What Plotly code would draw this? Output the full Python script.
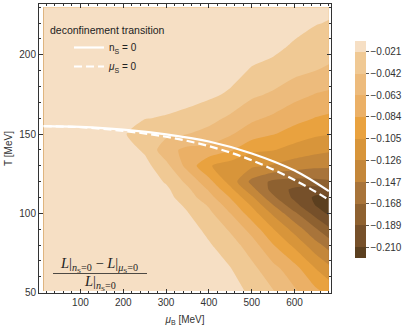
import plotly.graph_objects as go

# ---- data ----
mu_grid = [14, 100, 200, 250, 300, 350, 400, 450, 500, 550, 600, 650, 680]
T_grid = [51, 65, 80, 90, 100, 105, 110, 115, 120, 130, 140, 150, 160, 175, 190, 205, 220, 230]
ratio = [
    [0, 0, -0.001, -0.001, -0.001, -0.004, -0.008, -0.013, -0.025, -0.041, -0.060, -0.080, -0.090],
    [0, 0, -0.001, -0.001, -0.002, -0.006, -0.012, -0.020, -0.036, -0.056, -0.076, -0.105, -0.120],
    [0, -0.001, -0.001, -0.002, -0.004, -0.010, -0.019, -0.032, -0.053, -0.083, -0.110, -0.140, -0.155],
    [0, -0.001, -0.002, -0.003, -0.006, -0.013, -0.026, -0.045, -0.071, -0.104, -0.134, -0.166, -0.185],
    [0, -0.001, -0.002, -0.004, -0.009, -0.020, -0.037, -0.063, -0.095, -0.130, -0.164, -0.198, -0.214],
    [0, -0.001, -0.003, -0.005, -0.012, -0.024, -0.044, -0.073, -0.107, -0.146, -0.182, -0.211, -0.225],
    [0, -0.001, -0.003, -0.006, -0.014, -0.032, -0.055, -0.085, -0.122, -0.164, -0.194, -0.214, -0.216],
    [0, -0.002, -0.003, -0.007, -0.017, -0.038, -0.065, -0.099, -0.140, -0.176, -0.194, -0.200, -0.189],
    [0, -0.002, -0.004, -0.009, -0.023, -0.047, -0.077, -0.113, -0.153, -0.173, -0.176, -0.174, -0.171],
    [0, -0.002, -0.006, -0.014, -0.036, -0.070, -0.103, -0.116, -0.122, -0.128, -0.136, -0.142, -0.143],
    [0, -0.003, -0.011, -0.024, -0.055, -0.069, -0.070, -0.081, -0.101, -0.104, -0.114, -0.120, -0.123],
    [0, -0.004, -0.018, -0.037, -0.037, -0.042, -0.049, -0.061, -0.074, -0.083, -0.093, -0.102, -0.104],
    [0, -0.003, -0.014, -0.020, -0.023, -0.028, -0.035, -0.046, -0.059, -0.067, -0.077, -0.085, -0.088],
    [0, -0.001, -0.004, -0.007, -0.009, -0.012, -0.017, -0.024, -0.038, -0.045, -0.056, -0.064, -0.067],
    [0, 0, -0.001, -0.002, -0.002, -0.004, -0.007, -0.013, -0.023, -0.028, -0.036, -0.042, -0.045],
    [0, 0, 0, 0, 0, -0.001, -0.002, -0.006, -0.012, -0.016, -0.024, -0.031, -0.034],
    [0, 0, 0, 0, 0, 0, 0, -0.001, -0.005, -0.009, -0.014, -0.020, -0.022],
    [0, 0, 0, 0, 0, 0, 0, -0.001, -0.003, -0.005, -0.010, -0.014, -0.017],
]

mu_line = [14, 100, 200, 300, 400, 500, 600, 680]
T_nS0 = [155, 154.5, 152.8, 149.8, 145.3, 137.8, 127, 114]
T_muS0 = [155, 154.3, 152, 148.3, 142.4, 133.5, 121, 108.6]

levels = [-0.210, -0.189, -0.168, -0.147, -0.126, -0.105, -0.084, -0.063, -0.042, -0.021]
level_labels = ["\u22120.210", "\u22120.189", "\u22120.168", "\u22120.147", "\u22120.126",
                "\u22120.105", "\u22120.084", "\u22120.063", "\u22120.042", "\u22120.021"]

# band colours, darkest (most negative) to lightest
band_colors = ["#5B3F1F", "#76502A", "#8E6130", "#A8743A", "#C4873A", "#D8953A",
               "#E9A23F", "#EBB066", "#EDBB7C", "#F0C994", "#F6DFC4"]

n = len(band_colors)
cscale = []
for j, c in enumerate(band_colors):
    lo = max(0.0, (j - 0.5) / (n - 1))
    hi = min(1.0, (j + 0.5) / (n - 1))
    cscale.append([lo, c])
    cscale.append([hi, c])

FONT = "Liberation Sans, Arial, sans-serif"
SERIF = "Liberation Serif, Times New Roman, serif"
TXT = "#333333"

L, R, T, B = 39, 76, 4, 37
PW = 407 - L - R
PH = 330 - T - B


def px(xp):
    return (xp - L) / PW


def py(yp):
    return (330 - B - yp) / PH


fig = go.Figure()
fig.add_trace(go.Contour(
    x=mu_grid, y=T_grid, z=ratio,
    colorscale=cscale,
    contours=dict(start=levels[0], end=levels[-1], size=0.021, coloring="fill", showlines=False),
    line=dict(width=0, smoothing=0.6),
    colorbar=dict(
        x=px(355), xanchor="left", xref="paper",
        y=py(149.5), yanchor="middle", len=217 / PH, lenmode="fraction",
        thickness=11, outlinewidth=0, xpad=0, ypad=0,
        tickvals=levels, ticktext=level_labels,
        ticks="outside", ticklen=3, tickcolor="#555", tickwidth=1,
        tickfont=dict(family=FONT, size=10, color=TXT),
    ),
    hoverinfo="skip", showlegend=False,
))
fig.add_trace(go.Scatter(
    x=mu_line, y=T_nS0, mode="lines", name="n<sub>S</sub> = 0",
    line=dict(color="white", width=2.2, shape="spline"),
))
fig.add_trace(go.Scatter(
    x=mu_line, y=T_muS0, mode="lines", name="<i>μ</i><sub>S</sub> = 0",
    line=dict(color="white", width=2.2, dash="8px,4px", shape="spline"),
))

axis_common = dict(
    showline=True, linecolor="#333", linewidth=1, mirror="allticks",
    ticks="inside", ticklen=4, tickcolor="#333", tickwidth=1,
    showgrid=False, zeroline=False, automargin=False,
    tickfont=dict(family=FONT, size=10, color=TXT),
)
fig.update_xaxes(range=[3.3, 685], tickvals=[100, 200, 300, 400, 500, 600],
                 minor=dict(ticks="inside", ticklen=2, dtick=20, tick0=0, tickcolor="#333", showgrid=False),
                 title=dict(text="<i>μ</i><sub>B</sub> [MeV]", font=dict(family=FONT, size=10, color=TXT), standoff=8),
                 **axis_common)
fig.update_yaxes(range=[49.8, 232], tickvals=[50, 100, 150, 200],
                 minor=dict(ticks="inside", ticklen=2, dtick=10, tick0=0, tickcolor="#333", showgrid=False),
                 title=dict(text="T [MeV]", font=dict(family=FONT, size=10, color=TXT), standoff=4),
                 **axis_common)

fig.add_annotation(text="deconfinement transition", xref="paper", yref="paper",
                   x=px(48), y=py(30.5), xanchor="left", yanchor="middle", showarrow=False,
                   font=dict(family=FONT, size=10.5, color="#222"))

num = "<i>L</i>|<sub><i>n</i><sub>S</sub>=0</sub> \u2212 <i>L</i>|<sub><i>μ</i><sub>S</sub>=0</sub>"
den = "<i>L</i>|<sub><i>n</i><sub>S</sub>=0</sub>"
fig.add_annotation(text=num, xref="paper", yref="paper", x=px(99), y=py(265),
                   xanchor="center", yanchor="middle", showarrow=False,
                   font=dict(family=SERIF, size=14.5, color="#222"))
fig.add_annotation(text=den, xref="paper", yref="paper", x=px(100), y=py(283),
                   xanchor="center", yanchor="middle", showarrow=False,
                   font=dict(family=SERIF, size=14.5, color="#222"))
fig.add_shape(type="line", xref="paper", yref="paper",
              x0=px(53), x1=px(147), y0=py(273.5), y1=py(273.5),
              line=dict(color="#222", width=0.8))

fig.update_layout(
    width=407, height=330,
    margin=dict(l=L, r=R, t=T, b=B, autoexpand=False),
    plot_bgcolor="white", paper_bgcolor="white",
    showlegend=True,
    legend=dict(x=px(69), y=py(33), xanchor="left", yanchor="top",
                bgcolor="rgba(0,0,0,0)", font=dict(family=FONT, size=10, color="#222"),
                itemwidth=30, tracegroupgap=0),
    font=dict(family=FONT, size=10, color=TXT),
)

fig.write_html("out.html", config={"displayModeBar": False},
               post_script="document.body.style.margin='0px';")
